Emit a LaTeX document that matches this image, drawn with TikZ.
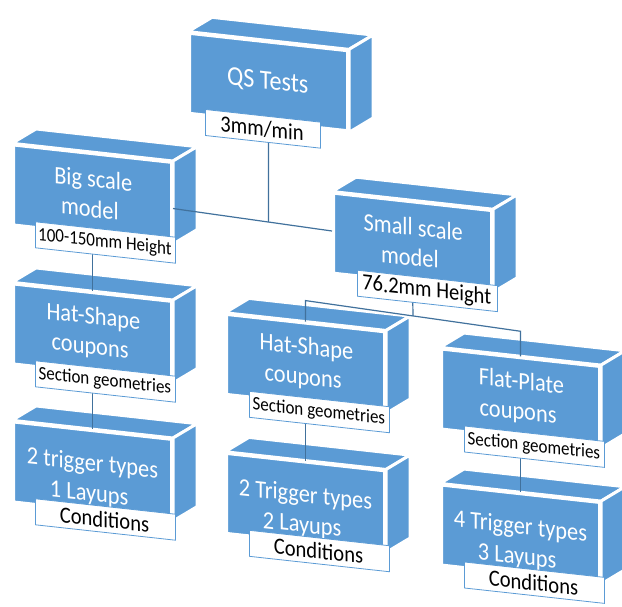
\documentclass[tikz,border=0pt]{standalone}
\usepackage{fontspec}
\setmainfont{Carlito}[FakeStretch=0.9, FakeSlant=-0.11]
\usetikzlibrary{calc}

\definecolor{boxblue}{HTML}{5B9BD5}
\definecolor{linkblue}{HTML}{41719C}

\tikzset{
    front/.style={fill=boxblue, draw=white, line width=3pt, anchor=north west,
        minimum width=158pt, minimum height=80pt, inner sep=0pt},
    face/.style={fill=boxblue, draw=white, line width=3pt, line join=round},
    lab/.style={fill=white, draw=boxblue, line width=0.8pt, anchor=north west,
        minimum width=140pt, minimum height=26pt, inner sep=0pt},
    link/.style={draw=linkblue, line width=1.2pt},
    % texts lie on the slanted faces
    boxtext/.style={rotate=-6.3, inner sep=0pt, text=white, align=center,
        font=\fontsize{25}{30}\selectfont},
    bignote/.style={rotate=-6.3, inner sep=0pt, font=\fontsize{23}{26}\selectfont},
    smallnote/.style={rotate=-6.3, inner sep=0pt, font=\fontsize{19}{22}\selectfont},
}

\begin{document}
\begin{tikzpicture}[x=1pt, y=1pt]
    \useasboundingbox (0,0) rectangle (622,-607);
    \begin{scope}[yslant=-0.11, transform shape]
        % front faces of the blocks
        \node[front] (qs) at (188,-11) {};
        \node[front] (big) at (12,-142) {};
        \node[front] (small) at (332,-155) {};
        \node[front] (hatl) at (12,-281) {};
        \node[front] (hatm) at (225,-288) {};
        \node[front] (flat) at (440,-299) {};
        \node[front] (trigl) at (12,-419) {};
        \node[front] (trigm) at (225,-427) {};
        \node[front] (trigr) at (440,-435) {};

        % top and side faces
        \foreach \n in {qs,big,small,hatl,hatm,flat,trigl,trigm,trigr} {
            \filldraw[face] (\n.north west) -- ++(24,17) -- ($(\n.north east)+(24,17)$) -- (\n.north east) -- cycle;
            \filldraw[face] (\n.north east) -- ++(24,17) -- ($(\n.south east)+(24,17)$) -- (\n.south east) -- cycle;
        }

        % connectors
        \draw[link] ([yshift=-6pt]big.east) -- ([yshift=2pt]small.west);
        \coordinate (qsjoin) at ($([yshift=-6pt]big.east)!0.6!([yshift=2pt]small.west)$);
        \draw[link] (qs.south) -- (qsjoin);
        \draw[link] (big.south) -- (hatl.north);
        \draw[link] (hatl.south) -- (trigl.north);
        \coordinate (hatmtop) at ([yshift=21pt]hatm.north);
        \coordinate (flattop) at ([yshift=25pt]flat.north);
        \draw[link] (hatm.north) -- (hatmtop) -- (flattop) -- (flat.north);
        \coordinate (smalljoin) at ($(hatmtop)!0.5!(flattop)$);
        \draw[link] (small.south) -- (smalljoin);
        \draw[link] (hatm.south) -- (trigm.north);
        \draw[link] (flat.south) -- (trigr.north);
    \end{scope}

    % block titles
    \node[boxtext, font=\fontsize{27}{30}\selectfont] (qstext) at (qs.center) {QS Tests};
    \node[boxtext] (bigtext) at (big.center) {Big scale\\model};
    \node[boxtext] (smalltext) at (small.center) {Small scale\\model};
    \node[boxtext] (hatltext) at (hatl.center) {Hat-Shape\\coupons};
    \node[boxtext] (hatmtext) at (hatm.center) {Hat-Shape\\coupons};
    \node[boxtext] (flattext) at (flat.center) {Flat-Plate\\coupons};
    \node[boxtext] (trigltext) at (trigl.center) {\rule{0pt}{35pt}2 trigger types\\1 Layups};
    \node[boxtext] (trigmtext) at (trigm.center) {\rule{0pt}{35pt}2 Trigger types\\2 Layups};
    \node[boxtext] (trigrtext) at (trigr.center) {\rule{0pt}{35pt}4 Trigger types\\3 Layups};

    % white labels over the bottom of each block
    \begin{scope}[yslant=-0.11, transform shape]
        \node[lab, minimum width=115pt] (qslab) at ([xshift=17pt,yshift=7.5pt]qs.south west) {};
        \node[lab] (biglab) at ([xshift=23pt,yshift=7.5pt]big.south west) {};
        \node[lab] (smalllab) at ([xshift=25pt,yshift=7.5pt]small.south west) {};
        \node[lab] (hatllab) at ([xshift=23pt,yshift=7.5pt]hatl.south west) {};
        \node[lab] (hatmlab) at ([xshift=24pt,yshift=7.5pt]hatm.south west) {};
        \node[lab] (flatlab) at ([xshift=24pt,yshift=7.5pt]flat.south west) {};
        \node[lab] (trigllab) at ([xshift=23pt,yshift=7.5pt]trigl.south west) {};
        \node[lab] (trigmlab) at ([xshift=24pt,yshift=7.5pt]trigm.south west) {};
        \node[lab] (trigrlab) at ([xshift=24pt,yshift=7.5pt]trigr.south west) {};
    \end{scope}

    \node[bignote] (qsnote) at (qslab.center) {3mm/min};
    \node[smallnote] (bignote) at (biglab.center) {100-150mm Height};
    \node[bignote] (smallnote) at (smalllab.center) {76.2mm Height};
    \node[smallnote] (hatlnote) at (hatllab.center) {Section geometries};
    \node[smallnote] (hatmnote) at (hatmlab.center) {Section geometries};
    \node[smallnote] (flatnote) at (flatlab.center) {Section geometries};
    \node[bignote] (triglnote) at (trigllab.center) {Conditions};
    \node[bignote] (trigmnote) at (trigmlab.center) {Conditions};
    \node[bignote] (trigrnote) at (trigrlab.center) {Conditions};
\end{tikzpicture}
\end{document}
